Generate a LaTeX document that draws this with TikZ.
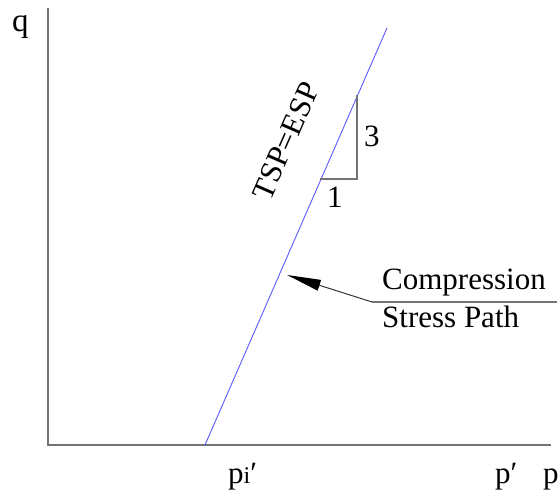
\documentclass[tikz,border=0pt]{standalone}
\usepackage{fontspec}
\setmainfont{Liberation Serif}
\usetikzlibrary{arrows.meta}
\begin{document}
\begin{tikzpicture}[x=1pt,y=-1pt,
  lbl/.style={inner sep=0pt,anchor=base west,font=\fontsize{31}{36}\selectfont},
  axis/.style={draw=black!55,line width=1.4pt},
  thinline/.style={draw=black!55,line width=1.1pt},
  pathline/.style={draw=blue!65!white,line width=0.9pt}]
\useasboundingbox (0,0) rectangle (560,497);
% axes
\coordinate (O) at (48,445);
\coordinate (qtop) at (48,8);
\coordinate (pend) at (551,445);
\draw[axis] (qtop) -- (O) -- (pend);
% stress path
\coordinate (pi) at (205,445);
\coordinate (top) at (387,28);
\draw[pathline] (pi) -- (top);
% slope triangle
\coordinate (t1) at (320,179);
\coordinate (t2) at (357,179);
\coordinate (t3) at (357,95);
\draw[thinline] (t1) -- (t2) -- (t3);
\node[lbl] (three) at (364,147) {3};
\node[lbl] (one) at (327,208) {1};
\node[inner sep=0pt,font=\fontsize{31}{36}\selectfont,rotate=66.4] (tsp) at (286,141) {TSP=ESP};
% labels
\node[lbl,font=\fontsize{33}{38}\selectfont] (q) at (12,32) {q};
\node[lbl] (pil) at (228,483) {p{\fontsize{24}{28}\selectfont i}′};
\node[lbl] (pp) at (495,483) {p′};
\node[lbl] (p) at (543,483) {p};
% compression stress path annotation
\node[lbl] (comp) at (382,290) {Compression};
\node[lbl] (sp) at (382,327) {Stress Path};
\coordinate (tail) at (372,302);
\coordinate (lineend) at (557,302);
\coordinate (tip) at (287,275);
\draw[thinline] (lineend) -- (tail);
\draw[line width=1pt,black!80,-{Triangle[length=34pt,width=11pt,color=black,fill=black]}] (tail) -- (tip);
\end{tikzpicture}
\end{document}
